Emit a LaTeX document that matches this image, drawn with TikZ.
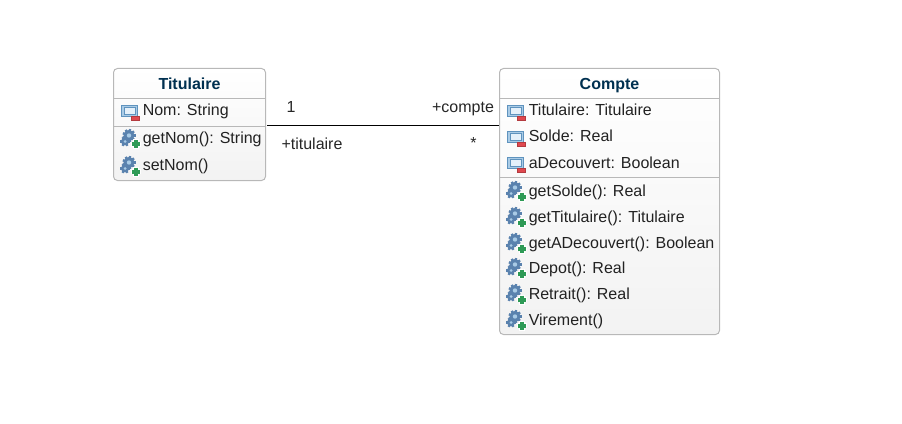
\documentclass[tikz,border=0pt]{standalone}
\usepackage{fontspec}
\setmainfont{Liberation Sans}
\definecolor{boxline}{HTML}{B8B8B8}
\definecolor{titleblue}{HTML}{003050}
\definecolor{membertext}{HTML}{222222}
\definecolor{iconblue}{HTML}{5F93BE}
\definecolor{iconmid}{HTML}{A9CBE6}
\definecolor{iconpale}{HTML}{E4F0FA}
\definecolor{icongear}{HTML}{5A82AE}
\definecolor{iconred}{HTML}{E0484F}
\definecolor{icongreen}{HTML}{2E9A56}
\tikzset{
	every node/.style={font=\fontsize{12}{14}\selectfont},
	classbox/.style={draw=boxline,rounded corners=3,top color=white,bottom color=black!5,line width=0.75pt},
	classtitle/.style={font=\fontsize{12}{14}\selectfont\bfseries,anchor=base,text=titleblue,inner sep=0pt},
	member/.style={anchor=base west,text=membertext,inner sep=0pt},
	rolelabel/.style={anchor=base,text=black!85,inner sep=0pt},
	attricon/.pic={
		\draw [iconblue,fill=iconmid,line width=0.75pt] (-8.5,-5.5) rectangle (7.5,5.5);
		\draw [iconblue,fill=iconpale,line width=0.6pt] (-6,-3.5) rectangle (5,3);
		\draw [iconred!80!black,fill=iconred,line width=0.4pt] (1.5,5) rectangle (9.5,9);
	},
	opicon/.pic={
		\foreach \a in {0,40,...,320}
			\draw [icongear,line width=1.8pt] (-1,-3)--++(\a:6.5);
		\foreach \a in {0,60,...,300}
			\draw [icongear,line width=1.6pt] (-5,3)--++(\a:5);
		\fill [icongear] (-1,-3) circle (5.5);
		\fill [icongear] (-5,3) circle (4);
		\fill [iconmid] (-1,-3) circle (2.2);
		\fill [iconmid] (-5,3) circle (1.5);
		\draw [white,line width=4pt] (1,6)--(11,6) (6,1)--(6,11);
		\draw [icongreen,line width=3pt] (2,6)--(10,6) (6,2)--(6,10);
	}
}
\begin{document}
\begin{tikzpicture}[x=0.75pt,y=-0.75pt]
\useasboundingbox (0,0) rectangle (902,424);

% Class boxes
\node [classbox,minimum width=114pt,minimum height=84pt,inner sep=0pt] (titulaire) at (189.5,124.5) {};
\node [classbox,minimum width=165pt,minimum height=199.5pt,inner sep=0pt] (compte) at (609.5,201.5) {};

% Titles
\node [classtitle] (titulaireTitle) at (189.5,89.5) {Titulaire};
\node [classtitle] (compteTitle) at (609.5,89.5) {Compte};

% Separators between the compartments
\foreach \y in {98.5,126.5}
	\draw [boxline,line width=0.75pt] (113.5,\y)--(265.5,\y);
\foreach \y in {98.5,177.5}
	\draw [boxline,line width=0.75pt] (499.5,\y)--(719.5,\y);

% Attributes and operations of Titulaire
\pic at (130,111) {attricon};
\node [member] (nom) at (142.5,116) {Nom: String};
\foreach \y/\n/\t in {144/getNom/getNom(): String,171/setNom/setNom()}{
	\pic at (130,\y-5.5) {opicon};
	\node [member] (\n) at (142.5,\y) {\t};
}

% Attributes and operations of Compte
\foreach \y/\n/\t in {116/titulaireAttr/Titulaire: Titulaire,142/solde/Solde: Real,168/aDecouvert/aDecouvert: Boolean}{
	\pic at (516,\y-5) {attricon};
	\node [member] (\n) at (528.5,\y) {\t};
}
\foreach \y/\n/\t in {196/getSolde/getSolde(): Real,222/getTitulaire/getTitulaire(): Titulaire,248/getADecouvert/getADecouvert(): Boolean,273/depot/Depot(): Real,299/retrait/Retrait(): Real,325/virement/Virement()}{
	\pic at (516,\y-5.5) {opicon};
	\node [member] (\n) at (528.5,\y) {\t};
}

% Association and its labels
\coordinate (assocLeft) at ([xshift=1pt,yshift=-0.75pt]titulaire.east);
\draw [black,line width=0.75pt] (assocLeft)--(assocLeft-|compte.west);
\node [rolelabel] (multOne) at (291,112.5) {1};
\node [rolelabel] (roleCompte) at (463,112.5) {+compte};
\node [rolelabel] (roleTitulaire) at (312,149.5) {+titulaire};
\node [rolelabel] (multMany) at (473.5,148.5) {*};
\end{tikzpicture}
\end{document}
